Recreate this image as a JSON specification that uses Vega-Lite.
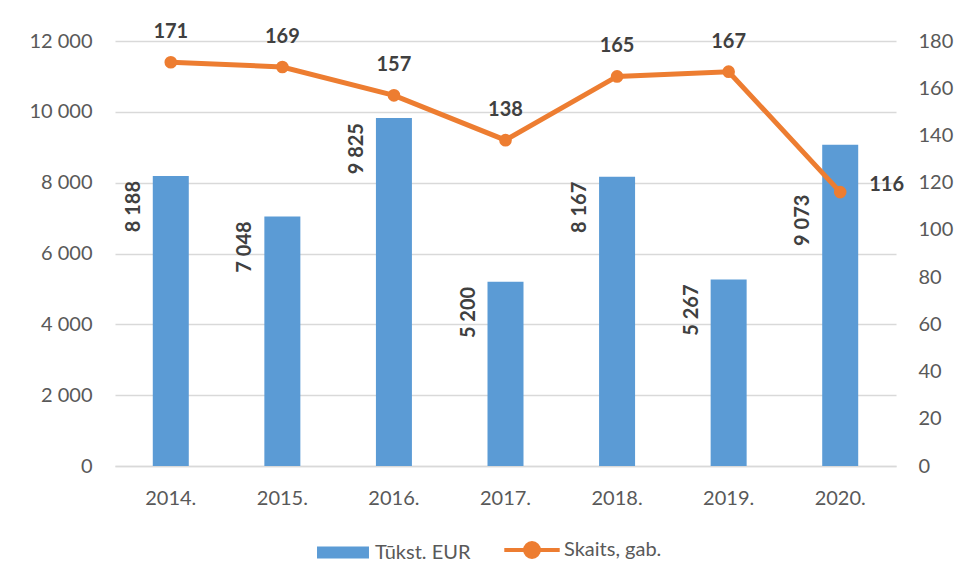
{
  "$schema": "https://vega.github.io/schema/vega-lite/v6.json",
  "width": 781,
  "height": 425,
  "autosize": {"type": "none"},
  "padding": {"left": 115, "top": 41, "right": 63, "bottom": 117},
  "background": "white",
  "config": {
    "font": "Lato",
    "locale": {"number": {"decimal": ",", "thousands": " ", "grouping": [3], "currency": ["", " €"]}},
    "view": {"stroke": null},
    "axis": {"labelFont": "Lato", "labelColor": "#595959", "labelFontSize": 20, "titleFont": "Lato"}
  },
  "data": {
    "values": [
      {"year": "2014.", "eur": 8188, "count": 171},
      {"year": "2015.", "eur": 7048, "count": 169},
      {"year": "2016.", "eur": 9825, "count": 157},
      {"year": "2017.", "eur": 5200, "count": 138},
      {"year": "2018.", "eur": 8167, "count": 165},
      {"year": "2019.", "eur": 5267, "count": 167},
      {"year": "2020.", "eur": 9073, "count": 116}
    ]
  },
  "encoding": {
    "x": {
      "field": "year", "type": "nominal", "sort": null,
      "scale": {"paddingInner": 0, "paddingOuter": 0},
      "axis": {"title": null, "labelAngle": 0, "ticks": false, "domainColor": "#D9D9D9", "domainWidth": 1.5, "labelPadding": 22}
    }
  },
  "layer": [
    {
      "layer": [
        {
          "mark": {"type": "bar", "size": 36},
          "encoding": {
            "y": {
              "field": "eur", "type": "quantitative",
              "scale": {"domain": [0, 12000], "nice": false},
              "axis": {
                "title": null, "orient": "left", "values": [0, 2000, 4000, 6000, 8000, 10000, 12000],
                "domain": false, "ticks": false, "gridColor": "#D9D9D9", "gridWidth": 1.5,
                "labelPadding": 23, "format": ",d"
              }
            },
            "color": {
              "datum": "Tūkst. EUR",
              "scale": {"domain": ["Tūkst. EUR", "Skaits, gab."], "range": ["#5B9BD5", "#ED7D31"]},
              "legend": {
                "title": null, "orient": "none", "direction": "horizontal", "legendX": 218, "legendY": 499,
                "labelFont": "Lato", "labelFontSize": 20, "labelColor": "#595959",
                "symbolSize": 1200, "columnPadding": 25, "labelOffset": 22,
                "encode": {
                  "symbols": {
                    "update": {
                      "shape": {"signal": "datum.value === 'Tūkst. EUR' ? 'M-1.5,-0.35H1.5V0.35H-1.5Z' : 'M-1.6,0H1.6M0.4,0A0.4,0.4 0 1,1 -0.4,0A0.4,0.4 0 1,1 0.4,0Z'"},
                      "fill": {"signal": "datum.value === 'Tūkst. EUR' ? '#5B9BD5' : '#ED7D31'"},
                      "stroke": {"signal": "datum.value === 'Tūkst. EUR' ? '#5B9BD5' : '#ED7D31'"},
                      "strokeWidth": {"signal": "datum.value === 'Tūkst. EUR' ? 0 : 4"},
                      "opacity": {"value": 1}
                    }
                  }
                }
              }
            }
          }
        },
        {
          "transform": [{"filter": "datum.year !== '2020.'"}],
          "mark": {"type": "text", "angle": -90, "align": "right", "baseline": "middle", "dy": -37, "dx": -5, "font": "Lato", "fontSize": 20, "fontWeight": "bold", "color": "#404040"},
          "encoding": {
            "y": {"field": "eur", "type": "quantitative"},
            "text": {"field": "eur", "type": "quantitative", "format": ",d"}
          }
        },
        {
          "transform": [{"filter": "datum.year === '2020.'"}],
          "mark": {"type": "text", "angle": -90, "align": "right", "baseline": "middle", "dy": -37, "dx": -50, "font": "Lato", "fontSize": 20, "fontWeight": "bold", "color": "#404040"},
          "encoding": {
            "y": {"field": "eur", "type": "quantitative"},
            "text": {"field": "eur", "type": "quantitative", "format": ",d"}
          }
        }
      ]
    },
    {
      "layer": [
        {
          "mark": {"type": "line", "strokeWidth": 5, "point": {"filled": true, "size": 160}},
          "encoding": {
            "y": {
              "field": "count", "type": "quantitative",
              "scale": {"domain": [0, 180], "nice": false},
              "axis": {
                "title": null, "orient": "right", "values": [0, 20, 40, 60, 80, 100, 120, 140, 160, 180],
                "domain": false, "ticks": false, "grid": false, "labelPadding": 22
              }
            },
            "color": {"datum": "Skaits, gab."}
          }
        },
        {
          "transform": [{"filter": "datum.year !== '2020.'"}],
          "mark": {"type": "text", "baseline": "middle", "dy": -30, "font": "Lato", "fontSize": 20, "fontWeight": "bold", "color": "#404040"},
          "encoding": {
            "y": {"field": "count", "type": "quantitative"},
            "text": {"field": "count", "type": "quantitative"}
          }
        },
        {
          "transform": [{"filter": "datum.year === '2020.'"}],
          "mark": {"type": "text", "align": "left", "baseline": "middle", "dx": 29, "dy": -7, "font": "Lato", "fontSize": 20, "fontWeight": "bold", "color": "#404040"},
          "encoding": {
            "y": {"field": "count", "type": "quantitative"},
            "text": {"field": "count", "type": "quantitative"}
          }
        }
      ]
    }
  ],
  "resolve": {"scale": {"y": "independent"}}
}
